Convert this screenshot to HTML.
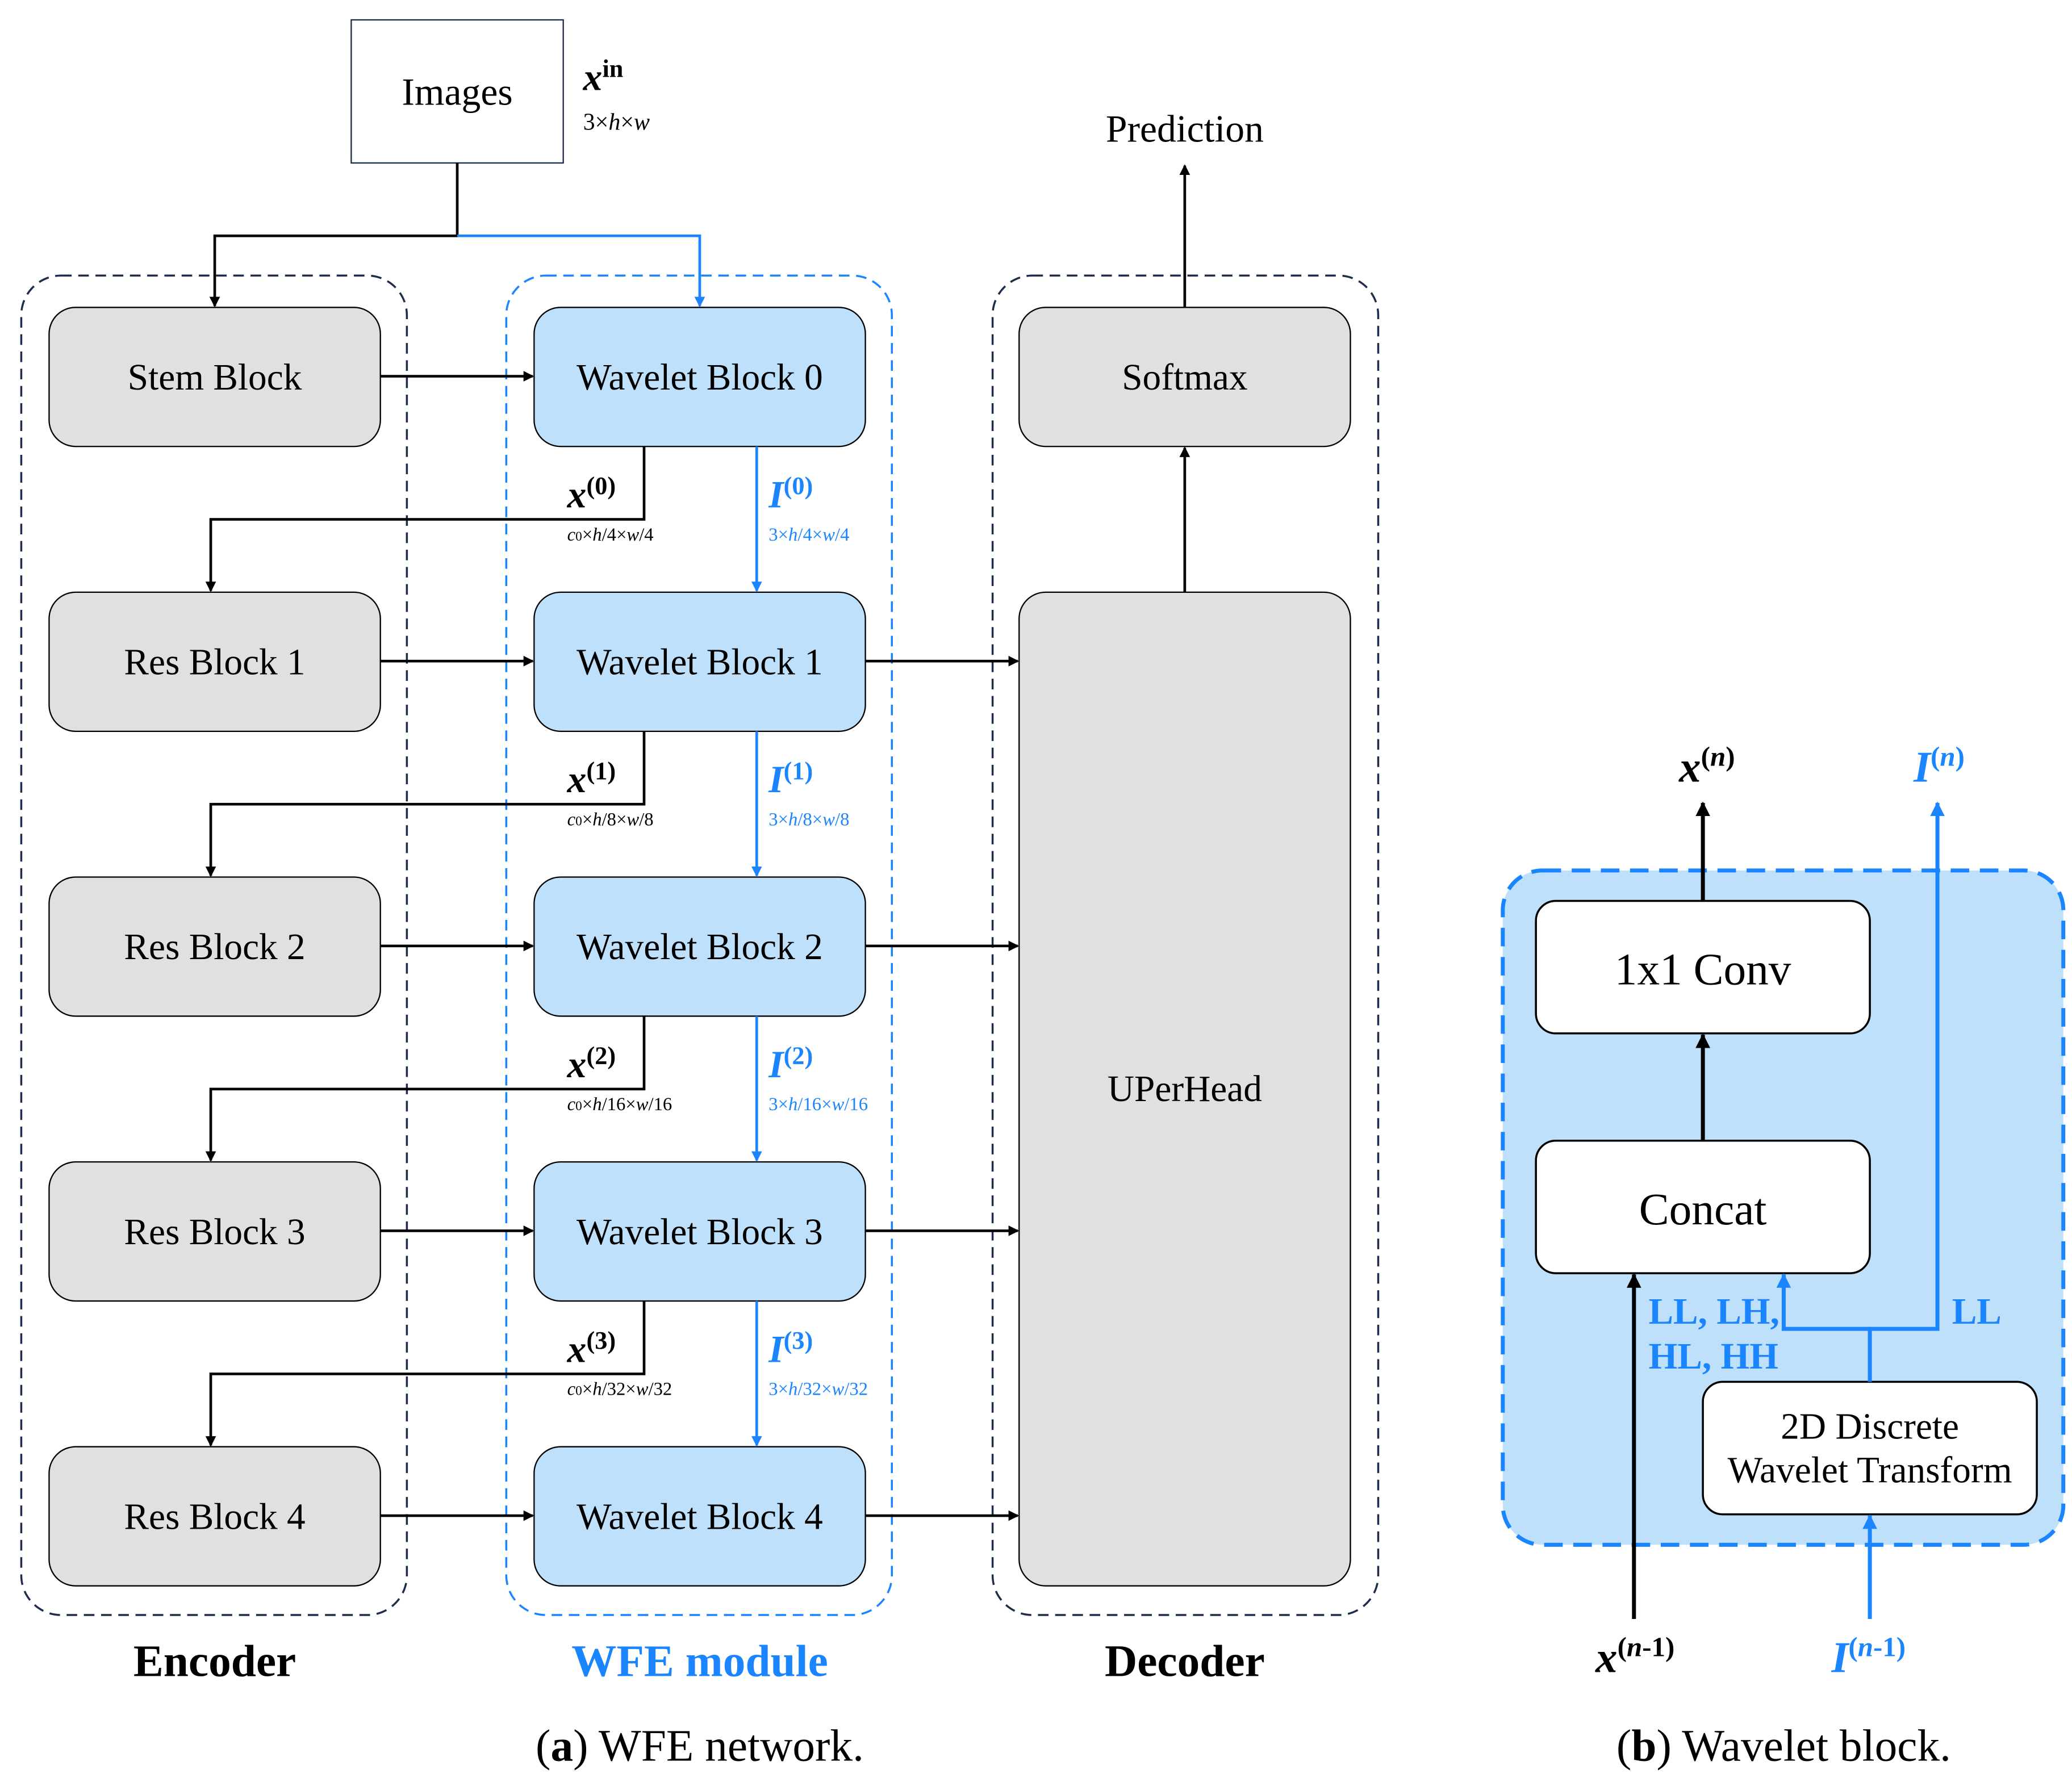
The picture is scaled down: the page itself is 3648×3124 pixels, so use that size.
<!DOCTYPE html>
<html><head><meta charset="utf-8"><style>html,body{margin:0;padding:0;background:#fff}svg{display:block}</style></head><body>
<svg width="3648" height="3124" viewBox="0 0 1563.5 1339" xmlns="http://www.w3.org/2000/svg" font-family="Liberation Serif, serif">
<defs>
<marker id="ak" markerWidth="8" markerHeight="8" refX="7" refY="4" orient="auto" markerUnits="userSpaceOnUse"><path d="M0,0 L8,4 L0,8 z" fill="#000"/></marker>
<marker id="ab" markerWidth="8" markerHeight="8" refX="7" refY="4" orient="auto" markerUnits="userSpaceOnUse"><path d="M0,0 L8,4 L0,8 z" fill="#1a85ff"/></marker>
<marker id="ak2" markerWidth="11" markerHeight="11" refX="10" refY="5.5" orient="auto" markerUnits="userSpaceOnUse"><path d="M0,0 L11,5.5 L0,11 z" fill="#000"/></marker>
<marker id="ab2" markerWidth="11" markerHeight="11" refX="10" refY="5.5" orient="auto" markerUnits="userSpaceOnUse"><path d="M0,0 L11,5.5 L0,11 z" fill="#1a85ff"/></marker>
</defs>
<rect x="265" y="15" width="160" height="108" fill="#fff" stroke="#1f2d4d" stroke-width="1"/>
<text x="345" y="79" font-size="29" text-anchor="middle">Images</text>
<text x="440" y="68" font-size="29" font-style="italic" font-weight="bold">x<tspan font-size="19" dy="-10" font-style="normal">in</tspan></text>
<text x="440" y="98" font-size="18">3×<tspan font-style="italic">h</tspan>×<tspan font-style="italic">w</tspan></text>
<path d="M345,123 V178 H162 V231" fill="none" stroke="#000" stroke-width="2" marker-end="url(#ak)"/>
<path d="M345,178 H528 V231" fill="none" stroke="#1a85ff" stroke-width="2" marker-end="url(#ab)"/>
<rect x="16" y="208" width="291" height="1011" rx="30" fill="none" stroke="#1f2d4d" stroke-width="1.5" stroke-dasharray="8,5"/>
<rect x="382" y="208" width="291" height="1011" rx="30" fill="none" stroke="#1a85ff" stroke-width="1.5" stroke-dasharray="8,5"/>
<rect x="749" y="208" width="291" height="1011" rx="30" fill="none" stroke="#1f2d4d" stroke-width="1.5" stroke-dasharray="8,5"/>
<g font-size="28" text-anchor="middle">
<g fill="#e0e0e0" stroke="#000" stroke-width="1">
<rect x="37" y="232" width="250" height="105" rx="20"/><rect x="37" y="447" width="250" height="105" rx="20"/><rect x="37" y="662" width="250" height="105" rx="20"/><rect x="37" y="877" width="250" height="105" rx="20"/><rect x="37" y="1092" width="250" height="105" rx="20"/>
<rect x="769" y="232" width="250" height="105" rx="20"/><rect x="769" y="447" width="250" height="750" rx="20"/>
</g>
<g fill="#bfe0fb" stroke="#000" stroke-width="1">
<rect x="403" y="232" width="250" height="105" rx="20"/><rect x="403" y="447" width="250" height="105" rx="20"/><rect x="403" y="662" width="250" height="105" rx="20"/><rect x="403" y="877" width="250" height="105" rx="20"/><rect x="403" y="1092" width="250" height="105" rx="20"/>
</g>
<text x="162" y="294">Stem Block</text><text x="162" y="509">Res Block 1</text><text x="162" y="724">Res Block 2</text><text x="162" y="939">Res Block 3</text><text x="162" y="1154">Res Block 4</text>
<text x="528" y="294">Wavelet Block 0</text><text x="528" y="509">Wavelet Block 1</text><text x="528" y="724">Wavelet Block 2</text><text x="528" y="939">Wavelet Block 3</text><text x="528" y="1154">Wavelet Block 4</text>
<text x="894" y="294">Softmax</text><text x="894" y="831">UPerHead</text>
<text x="894" y="107" font-size="29">Prediction</text>
</g>
<g stroke="#000" stroke-width="2" fill="none" marker-end="url(#ak)">
<path d="M287,284 H402"/><path d="M287,499 H402"/><path d="M287,714 H402"/><path d="M287,929 H402"/><path d="M287,1144 H402"/>
<path d="M653,499 H768"/><path d="M653,714 H768"/><path d="M653,929 H768"/><path d="M653,1144 H768"/>
<path d="M894,232 V125"/><path d="M894,447 V338"/>
<path d="M486,337 V392 H159 V446"/><path d="M486,552 V607 H159 V661"/><path d="M486,767 V822 H159 V876"/><path d="M486,982 V1037 H159 V1091"/>
</g>
<g stroke="#1a85ff" stroke-width="2" fill="none" marker-end="url(#ab)">
<path d="M571,337 V446"/><path d="M571,552 V661"/><path d="M571,767 V876"/><path d="M571,982 V1091"/>
</g>
<g font-size="29" font-weight="bold" font-style="italic">
<text x="428" y="383">x<tspan font-size="19" dy="-10" font-style="normal">(0)</tspan></text>
<text x="428" y="598">x<tspan font-size="19" dy="-10" font-style="normal">(1)</tspan></text>
<text x="428" y="813">x<tspan font-size="19" dy="-10" font-style="normal">(2)</tspan></text>
<text x="428" y="1028">x<tspan font-size="19" dy="-10" font-style="normal">(3)</tspan></text>
<g fill="#1a85ff">
<text x="580" y="383">I<tspan font-size="19" dy="-10" font-style="normal">(0)</tspan></text>
<text x="580" y="598">I<tspan font-size="19" dy="-10" font-style="normal">(1)</tspan></text>
<text x="580" y="813">I<tspan font-size="19" dy="-10" font-style="normal">(2)</tspan></text>
<text x="580" y="1028">I<tspan font-size="19" dy="-10" font-style="normal">(3)</tspan></text>
</g></g>
<g font-size="14">
<text x="428" y="408"><tspan font-style="italic">c</tspan><tspan font-size="10">0</tspan>×<tspan font-style="italic">h</tspan>/4×<tspan font-style="italic">w</tspan>/4</text>
<text x="428" y="623"><tspan font-style="italic">c</tspan><tspan font-size="10">0</tspan>×<tspan font-style="italic">h</tspan>/8×<tspan font-style="italic">w</tspan>/8</text>
<text x="428" y="838"><tspan font-style="italic">c</tspan><tspan font-size="10">0</tspan>×<tspan font-style="italic">h</tspan>/16×<tspan font-style="italic">w</tspan>/16</text>
<text x="428" y="1053"><tspan font-style="italic">c</tspan><tspan font-size="10">0</tspan>×<tspan font-style="italic">h</tspan>/32×<tspan font-style="italic">w</tspan>/32</text>
<g fill="#1a85ff">
<text x="580" y="408">3×<tspan font-style="italic">h</tspan>/4×<tspan font-style="italic">w</tspan>/4</text>
<text x="580" y="623">3×<tspan font-style="italic">h</tspan>/8×<tspan font-style="italic">w</tspan>/8</text>
<text x="580" y="838">3×<tspan font-style="italic">h</tspan>/16×<tspan font-style="italic">w</tspan>/16</text>
<text x="580" y="1053">3×<tspan font-style="italic">h</tspan>/32×<tspan font-style="italic">w</tspan>/32</text>
</g></g>
<g font-size="34" font-weight="bold" text-anchor="middle">
<text x="162" y="1265">Encoder</text><text x="528" y="1265" fill="#1a85ff">WFE module</text><text x="894" y="1265">Decoder</text>
</g>
<g font-size="34" text-anchor="middle">
<text x="528" y="1329">(<tspan font-weight="bold">a</tspan>) WFE network.</text>
<text x="1346" y="1329">(<tspan font-weight="bold">b</tspan>) Wavelet block.</text>
</g>
<rect x="1134" y="657" width="423" height="509" rx="30" fill="#bfe0fb" stroke="#1a85ff" stroke-width="3" stroke-dasharray="14,8"/>
<g fill="#fff" stroke="#000" stroke-width="1.5">
<rect x="1159" y="680" width="252" height="100" rx="15"/>
<rect x="1159" y="861" width="252" height="100" rx="15"/>
<rect x="1285" y="1043" width="252" height="100" rx="15"/>
</g>
<g text-anchor="middle">
<text x="1285" y="743" font-size="34">1x1 Conv</text>
<text x="1285" y="924" font-size="34">Concat</text>
<text x="1411" y="1086" font-size="28">2D Discrete</text>
<text x="1411" y="1119" font-size="28">Wavelet Transform</text>
</g>
<g stroke="#000" stroke-width="3" fill="none" marker-end="url(#ak2)">
<path d="M1285,680 V606"/><path d="M1285,861 V781"/><path d="M1233,1222 V962"/>
</g>
<g stroke="#1a85ff" stroke-width="3" fill="none" marker-end="url(#ab2)">
<path d="M1411,1222 V1144"/><path d="M1411,1043 V1003 H1346 V962"/><path d="M1411,1003 H1462 V606"/>
</g>
<g font-size="33" font-weight="bold" font-style="italic">
<text x="1267" y="590">x<tspan font-size="21" dy="-12" font-style="normal">(<tspan font-style="italic">n</tspan>)</tspan></text>
<text x="1444" y="590" fill="#1a85ff">I<tspan font-size="21" dy="-12" font-style="normal">(<tspan font-style="italic">n</tspan>)</tspan></text>
<text x="1204" y="1262">x<tspan font-size="21" dy="-12" font-style="normal">(<tspan font-style="italic">n</tspan>-1)</tspan></text>
<text x="1382" y="1262" fill="#1a85ff">I<tspan font-size="21" dy="-12" font-style="normal">(<tspan font-style="italic">n</tspan>-1)</tspan></text>
</g>
<g font-size="28" font-weight="bold" fill="#1a85ff">
<text x="1244" y="999">LL, LH,</text><text x="1244" y="1033">HL, HH</text><text x="1473" y="999">LL</text>
</g>
</svg>
</body></html>
